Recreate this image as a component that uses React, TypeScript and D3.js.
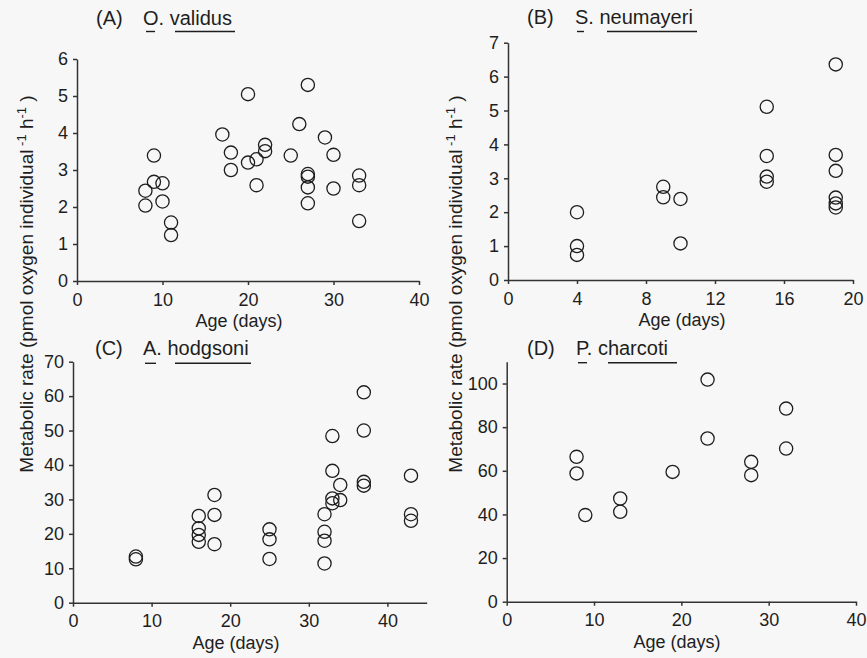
import React, { useEffect, useRef } from 'react';
import * as d3 from 'd3';

// (A) O. validus
const validusAge = [8, 8, 9, 9, 10, 10, 11, 11, 17, 18, 18, 20, 20, 21, 21, 22, 22, 25, 26, 27, 27, 27, 27, 27, 29, 30, 30, 33, 33, 33];
const validusRate = [2.44, 2.04, 3.39, 2.68, 2.64, 2.15, 1.58, 1.24, 3.96, 3.47, 3.0, 5.05, 3.2, 3.29, 2.59, 3.68, 3.51, 3.39, 4.24, 5.3, 2.89, 2.82, 2.53, 2.1, 3.88, 3.41, 2.5, 2.85, 2.59, 1.62];

// (B) S. neumayeri
const neumayeriAge = [4, 4, 4, 9, 9, 10, 10, 15, 15, 15, 15, 19, 19, 19, 19, 19, 19];
const neumayeriRate = [2.0, 1.0, 0.74, 2.75, 2.44, 2.39, 1.08, 5.11, 3.66, 3.05, 2.9, 6.36, 3.69, 3.22, 2.43, 2.26, 2.14];

// (C) A. hodgsoni
const hodgsoniAge = [8, 8, 16, 16, 16, 16, 18, 18, 18, 25, 25, 25, 32, 32, 32, 32, 33, 33, 33, 33, 34, 34, 37, 37, 37, 37, 43, 43, 43];
const hodgsoniRate = [13.4, 12.6, 25.2, 21.6, 19.7, 17.7, 31.3, 25.5, 17.0, 21.3, 18.4, 12.7, 25.7, 20.6, 18.0, 11.4, 48.4, 38.3, 30.3, 28.9, 34.2, 29.8, 61.1, 50.0, 35.1, 34.0, 36.9, 25.7, 23.8];

// (D) P. charcoti
const charcotiAge = [8, 8, 9, 13, 13, 19, 23, 23, 28, 28, 32, 32];
const charcotiRate = [66.4, 58.8, 39.7, 47.3, 41.2, 59.5, 101.8, 74.8, 64.1, 58.0, 88.5, 70.2];

// tick labels
const ticksX40 = [0, 10, 20, 30, 40];
const ticksX20 = [0, 4, 8, 12, 16, 20];
const ticksY6 = [0, 1, 2, 3, 4, 5, 6];
const ticksY7 = [0, 1, 2, 3, 4, 5, 6, 7];
const ticksY70 = [0, 10, 20, 30, 40, 50, 60, 70];
const ticksY100 = [0, 20, 40, 60, 80, 100];

const FONT = '"Liberation Sans", Arial, Helvetica, sans-serif';
const INK = '#1e1e1e';

const panels = [
  {
    tag: '(A)', genus: 'O.', species: 'validus', age: validusAge, rate: validusRate,
    xDomain: [0, 40], xRange: [77, 419], xTicks: ticksX40,
    yDomain: [0, 6], yRange: [281, 59], yTicks: ticksY6,
    title: { x: 96, y: 25, nameX: 143, line: 31.5, dash: [146, 155], under: [175, 235] },
    labelX: 239,
  },
  {
    tag: '(B)', genus: 'S.', species: 'neumayeri', age: neumayeriAge, rate: neumayeriRate,
    xDomain: [0, 20], xRange: [508, 853], xTicks: ticksX20,
    yDomain: [0, 7], yRange: [280, 42.7], yTicks: ticksY7,
    title: { x: 527, y: 24, nameX: 575, line: 31.5, dash: [577, 584], under: [607, 697] },
    labelX: 682,
  },
  {
    tag: '(C)', genus: 'A.', species: 'hodgsoni', age: hodgsoniAge, rate: hodgsoniRate,
    xDomain: [0, 45], xRange: [73, 426.7], xTicks: ticksX40,
    yDomain: [0, 70], yRange: [602.7, 361.7], yTicks: ticksY70,
    title: { x: 95, y: 355, nameX: 143, line: 363.3, dash: [145, 156], under: [175, 251] },
    labelX: 236,
  },
  {
    tag: '(D)', genus: 'P.', species: 'charcoti', age: charcotiAge, rate: charcotiRate,
    xDomain: [0, 40], xRange: [506.7, 856], xTicks: ticksX40,
    yDomain: [0, 110], yRange: [601.7, 361.7], yTicks: ticksY100,
    title: { x: 527, y: 355, nameX: 576, line: 362.7, dash: [578, 587], under: [608, 677] },
    labelX: 677,
  },
];

const App = () => {
  const ref = useRef<SVGSVGElement>(null);

  useEffect(() => {
    const svg = d3.select(ref.current);
    svg.selectAll('*').remove();

    svg.append('rect').attr('width', 867).attr('height', 658).attr('fill', '#f7f7f7');

    panels.forEach((p) => {
      const x = d3.scaleLinear().domain(p.xDomain).range(p.xRange);
      const y = d3.scaleLinear().domain(p.yDomain).range(p.yRange);
      const g = svg.append('g').attr('font-family', FONT);

      const xAxis = g.append('g')
        .attr('transform', `translate(0,${p.yRange[0]})`)
        .call(d3.axisBottom(x).tickValues(p.xTicks).tickFormat(d3.format('d')).tickSize(4).tickSizeOuter(0).tickPadding(8));
      const yAxis = g.append('g')
        .attr('transform', `translate(${p.xRange[0]},0)`)
        .call(d3.axisLeft(y).tickValues(p.yTicks).tickFormat(d3.format('d')).tickSize(4).tickSizeOuter(0).tickPadding(5));

      [xAxis, yAxis].forEach((a) => {
        a.attr('font-family', FONT).attr('font-size', 18);
        a.selectAll('path, line').attr('stroke', '#333').attr('stroke-width', 1.5);
        a.selectAll('text').attr('fill', INK);
      });

      // points
      g.append('g')
        .selectAll('circle')
        .data(p.age.map((a, i) => ({ a, r: p.rate[i] })))
        .join('circle')
        .attr('cx', (d) => x(d.a))
        .attr('cy', (d) => y(d.r))
        .attr('r', 6.6)
        .attr('fill', 'none')
        .attr('stroke', INK)
        .attr('stroke-width', 1.3);

      // x axis title
      g.append('text')
        .attr('x', p.labelX)
        .attr('y', p.yRange[0] + 46)
        .attr('text-anchor', 'middle')
        .attr('font-size', 18)
        .attr('fill', INK)
        .text('Age (days)');

      // panel title
      g.append('text')
        .attr('x', p.title.x).attr('y', p.title.y)
        .attr('font-size', 20).attr('fill', INK)
        .text(p.tag);
      g.append('text')
        .attr('x', p.title.nameX).attr('y', p.title.y)
        .attr('font-size', 20).attr('fill', INK)
        .text(`${p.genus} ${p.species}`);
      [p.title.dash, p.title.under].forEach((seg) => {
        g.append('line')
          .attr('x1', seg[0]).attr('x2', seg[1])
          .attr('y1', p.title.line).attr('y2', p.title.line)
          .attr('stroke', INK).attr('stroke-width', 1.4);
      });
    });

    // shared y axis titles
    [33, 462].forEach((lx) => {
      const t = svg.append('text')
        .attr('transform', `translate(${lx},284) rotate(-90)`)
        .attr('text-anchor', 'middle')
        .attr('font-family', FONT)
        .attr('font-size', 19)
        .attr('fill', INK);
      t.append('tspan').text('Metabolic rate (pmol oxygen individual');
      t.append('tspan').attr('dy', -7).attr('font-size', 13).text(' -1');
      t.append('tspan').attr('dy', 7).text(' h');
      t.append('tspan').attr('dy', -7).attr('font-size', 13).text('-1');
      t.append('tspan').attr('dy', 7).text(' )');
    });
  }, []);

  return (
    <svg ref={ref} width={867} height={658} style={{ position: 'absolute', left: 0, top: 0 }} />
  );
};

export default App;
